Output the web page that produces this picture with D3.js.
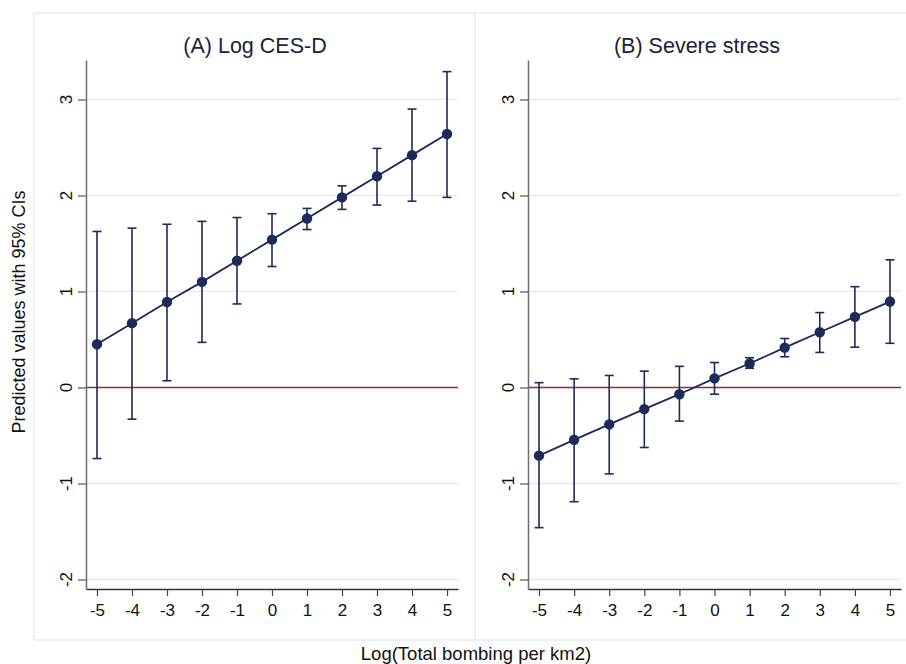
<!DOCTYPE html>
<html>
<head>
<meta charset="utf-8">
<script src="https://cdn.jsdelivr.net/npm/d3@7"></script>
<style>
  body { margin: 0; background: #fff; }
  svg { font-family: "Liberation Sans", Arial, sans-serif; }
</style>
</head>
<body>
<svg id="chart" width="906" height="664"></svg>
<script>
// x positions (log bombing per km2)
const xValues = [-5, -4, -3, -2, -1, 0, 1, 2, 3, 4, 5];
const yTicks = [-2, -1, 0, 1, 2, 3];

// (A) Log CES-D
const cesdPred  = [0.45, 0.67, 0.89, 1.10, 1.32, 1.54, 1.76, 1.98, 2.20, 2.42, 2.64];
const cesdLower = [-0.74, -0.33, 0.07, 0.47, 0.87, 1.26, 1.645, 1.855, 1.90, 1.94, 1.98];
const cesdUpper = [1.625, 1.66, 1.70, 1.73, 1.77, 1.81, 1.865, 2.10, 2.49, 2.90, 3.29];

// (B) Severe stress
const stressPred  = [-0.71, -0.545, -0.385, -0.225, -0.07, 0.095, 0.25, 0.415, 0.575, 0.735, 0.895];
const stressLower = [-1.46, -1.19, -0.90, -0.625, -0.35, -0.07, 0.20, 0.32, 0.365, 0.42, 0.46];
const stressUpper = [0.05, 0.09, 0.125, 0.17, 0.22, 0.26, 0.31, 0.51, 0.78, 1.05, 1.33];

const navy = "#1c2b58";
const gridColor = "#e1e9ef";
const frameColor = "#e6edf2";

let svg = d3.select("#chart");

// outer frame of the two panels
function drawFrame(){
  let f = svg.append("g").attr("fill", "none").attr("stroke", frameColor).attr("stroke-width", 1.5);
  f.append("line").attr("x1", 34).attr("x2", 906).attr("y1", 13).attr("y2", 13);
  f.append("line").attr("x1", 34).attr("x2", 906).attr("y1", 640).attr("y2", 640);
  f.append("line").attr("x1", 34).attr("x2", 34).attr("y1", 13).attr("y2", 640);
  f.append("line").attr("x1", 475).attr("x2", 475).attr("y1", 13).attr("y2", 640);
}

function drawPanel(left, right, titleX, title, pred, lower, upper){
  let x = d3.scaleLinear().domain([-5.314, 5.314]).range([left, right]);
  let y = d3.scaleLinear().domain([-2.099, 3.411]).range([589, 60]);
  let g = svg.append("g");

  // gridlines
  g.selectAll(".grid")
   .data(yTicks)
   .enter().append("line")
   .attr("class", "grid")
   .attr("x1", left).attr("x2", right)
   .attr("y1", d => y(d)).attr("y2", d => y(d))
   .attr("stroke", gridColor)
   .attr("stroke-width", 1.3);

  // reference line at zero
  g.append("line")
   .attr("x1", left).attr("x2", right)
   .attr("y1", y(0)).attr("y2", y(0))
   .attr("stroke", "#a3283a")
   .attr("stroke-width", 1.5);

  // x axis
  let xAxis = g.append("g")
   .attr("transform", "translate(0,589)")
   .call(d3.axisBottom(x).tickValues(xValues).tickSize(7).tickSizeOuter(0).tickFormat(d3.format("d")));
  xAxis.select(".domain").attr("stroke", "#333").attr("stroke-width", 1.5);
  xAxis.selectAll(".tick line").attr("stroke", "#444").attr("stroke-width", 1.2);
  xAxis.selectAll(".tick text")
   .attr("y", 15)
   .attr("dy", "0.71em")
   .attr("fill", "#111")
   .style("font-size", "17px")
   .style("font-family", "'Liberation Sans', Arial, sans-serif")
   .text(d => d < 0 ? "-" + Math.abs(d) : d);

  // y axis
  let yAxis = g.append("g")
   .attr("transform", "translate(" + left + ",0)")
   .call(d3.axisLeft(y).tickValues(yTicks).tickSize(8).tickSizeOuter(0));
  yAxis.select(".domain").attr("stroke", "#6e6e6e").attr("stroke-width", 1.5);
  yAxis.selectAll(".tick line").attr("stroke", "#555").attr("stroke-width", 1.2);
  yAxis.selectAll(".tick text").remove();
  g.selectAll(".ylab")
   .data(yTicks)
   .enter().append("text")
   .attr("class", "ylab")
   .attr("transform", d => "translate(" + (left - 14) + "," + y(d) + ") rotate(-90)")
   .attr("text-anchor", "middle")
   .attr("fill", "#111")
   .style("font-size", "17px")
   .text(d => d < 0 ? "-" + Math.abs(d) : d);

  // panel title
  g.append("text")
   .attr("x", titleX)
   .attr("y", 53)
   .attr("text-anchor", "middle")
   .attr("fill", "#1d2238")
   .style("font-size", "21.5px")
   .text(title);

  let rows = xValues.map((v, i) => ({ x: v, p: pred[i], lo: lower[i], hi: upper[i] }));

  // error bars
  let bars = g.selectAll(".ci").data(rows).enter().append("g").attr("class", "ci")
   .attr("stroke", navy).attr("stroke-width", 1.6);
  bars.append("line")
   .attr("x1", d => x(d.x)).attr("x2", d => x(d.x))
   .attr("y1", d => y(d.lo)).attr("y2", d => y(d.hi));
  bars.append("line")
   .attr("x1", d => x(d.x) - 4.5).attr("x2", d => x(d.x) + 4.5)
   .attr("y1", d => y(d.lo)).attr("y2", d => y(d.lo));
  bars.append("line")
   .attr("x1", d => x(d.x) - 4.5).attr("x2", d => x(d.x) + 4.5)
   .attr("y1", d => y(d.hi)).attr("y2", d => y(d.hi));

  // connecting line
  let line = d3.line().x(d => x(d.x)).y(d => y(d.p));
  g.append("path")
   .datum(rows)
   .attr("d", line)
   .attr("fill", "none")
   .attr("stroke", navy)
   .attr("stroke-width", 1.8);

  g.selectAll(".dot")
   .data(rows)
   .enter().append("circle")
   .attr("class", "dot")
   .attr("cx", d => x(d.x))
   .attr("cy", d => y(d.p))
   .attr("r", 5.2)
   .attr("fill", navy);
}

drawFrame();
drawPanel(86, 458, 255, "(A) Log CES-D", cesdPred, cesdLower, cesdUpper);
drawPanel(528, 901, 697, "(B) Severe stress", stressPred, stressLower, stressUpper);

// shared axis titles
svg.append("text")
   .attr("x", 476)
   .attr("y", 660)
   .attr("text-anchor", "middle")
   .attr("fill", "#111")
   .style("font-size", "18.5px")
   .text("Log(Total bombing per km2)");

svg.append("text")
   .attr("transform", "translate(25,312) rotate(-90)")
   .attr("text-anchor", "middle")
   .attr("fill", "#111")
   .style("font-size", "18px")
   .text("Predicted values with 95% CIs");
</script>
</body>
</html>
